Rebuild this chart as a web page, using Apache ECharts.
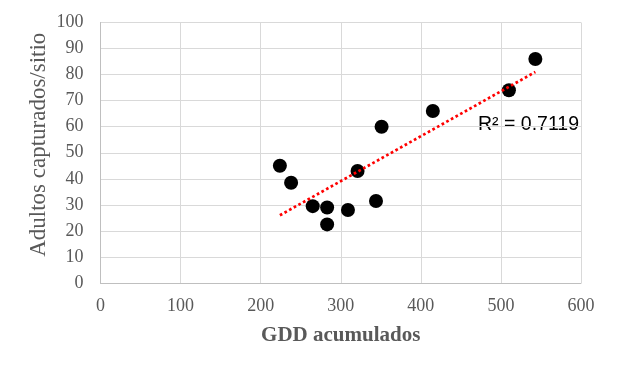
<!DOCTYPE html>
<html><head><meta charset="utf-8">
<script src="https://cdn.jsdelivr.net/npm/echarts@6/dist/echarts.min.js"></script>
<style>html,body{margin:0;padding:0;background:#fff}#c{width:619px;height:372px}</style>
</head><body><div id="c"></div>
<script>
var gdd = [224, 238, 265, 283, 283, 309, 321, 344, 351, 415, 510, 543];
var adultos = [45, 38.5, 29.5, 29, 22.5, 28, 43, 31.5, 60, 66, 74, 86];
var xTicks = [0, 100, 200, 300, 400, 500, 600];
var yTicks = [0, 10, 20, 30, 40, 50, 60, 70, 80, 90, 100];
var r2Label = 'R² = 0.7119';

// linear least-squares trendline derived from the data
var n = gdd.length, sx = 0, sy = 0, sxx = 0, sxy = 0;
for (var i = 0; i < n; i++) { sx += gdd[i]; sy += adultos[i]; sxx += gdd[i]*gdd[i]; sxy += gdd[i]*adultos[i]; }
var slope = (n*sxy - sx*sy) / (n*sxx - sx*sx);
var icpt = (sy - slope*sx) / n;
var xmin = Math.min.apply(null, gdd), xmax = Math.max.apply(null, gdd);
var trend = [[xmin, icpt + slope*xmin], [xmax, icpt + slope*xmax]];

var points = gdd.map(function (x, i) { return [x, adultos[i]]; });
var chart = echarts.init(document.getElementById('c'));
var serif = '"Liberation Serif", "Times New Roman", serif';
chart.setOption({
  animation: false,
  grid: { left: 100.5, right: 38, top: 22.5, bottom: 89 },
  xAxis: {
    type: 'value', min: xTicks[0], max: xTicks[xTicks.length-1], interval: 100,
    name: 'GDD acumulados', nameLocation: 'middle', nameGap: 42,
    nameTextStyle: { fontFamily: serif, fontSize: 21, fontWeight: 'bold', color: '#595959' },
    axisLine: { show: true, lineStyle: { color: '#bfbfbf', width: 1 } },
    axisTick: { show: false },
    axisLabel: { fontFamily: serif, fontSize: 18, color: '#595959', margin: 14 },
    splitLine: { show: true, lineStyle: { color: '#d9d9d9', width: 1 } }
  },
  yAxis: {
    type: 'value', min: yTicks[0], max: yTicks[yTicks.length-1], interval: 10,
    name: 'Adultos capturados/sitio', nameLocation: 'middle', nameGap: 50,
    nameMoveOverlap: false,
    nameTextStyle: { fontFamily: serif, fontSize: 23, color: '#595959', padding: [0, 0, 0, 16] },
    axisLine: { show: true, lineStyle: { color: '#bfbfbf', width: 1 } },
    axisTick: { show: false },
    axisLabel: { fontFamily: serif, fontSize: 18, color: '#595959', margin: 17 },
    splitLine: { show: true, lineStyle: { color: '#d9d9d9', width: 1 } }
  },
  series: [
    {
      type: 'line', data: trend, symbol: 'none', silent: true, z: 3,
      lineStyle: { color: '#ff0000', width: 2.7, type: [2.7, 2.6] }
    },
    {
      type: 'scatter', data: points, symbol: 'circle', symbolSize: 14, z: 2,
      itemStyle: { color: '#000000', opacity: 1 }
    }
  ],
  graphic: [{
    type: 'text', left: 478, top: 115,
    style: { text: r2Label, font: '19.5px "Liberation Sans", Arial, sans-serif', fill: '#000000' }
  }]
});
</script></body></html>
